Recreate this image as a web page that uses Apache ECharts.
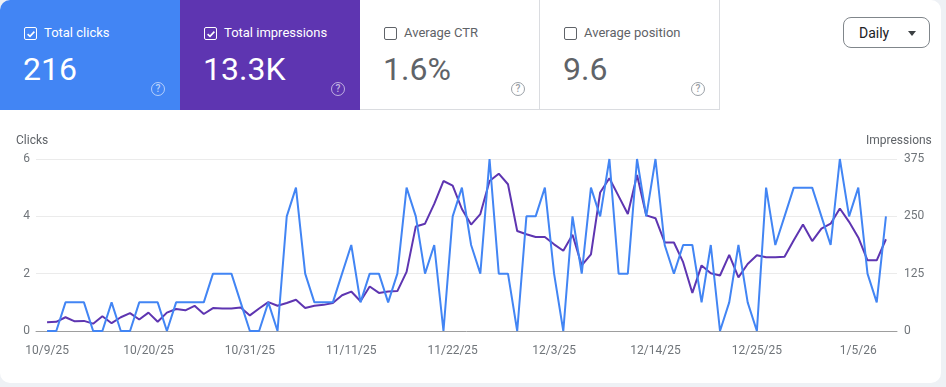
<!DOCTYPE html>
<html>
<head>
<meta charset="utf-8">
<script src="https://cdn.jsdelivr.net/npm/echarts@6/dist/echarts.min.js"></script>
<style>
  html, body { margin:0; padding:0; width:946px; height:387px; background:#eef1f5; overflow:hidden; font-family: Roboto, "Noto Sans", Arial, sans-serif; }
  #card { position:absolute; left:0; top:0; width:941px; height:383px; background:#fff; border-radius:10px; overflow:hidden; }
  #chart { position:absolute; left:0; top:0; width:946px; height:387px; }
  .tile { position:absolute; top:0; width:180px; height:110px; box-sizing:border-box; }
  .tile.white { border-right:1px solid #dadce0; border-bottom:1px solid #dadce0; background:#fff; }
  .cb { position:absolute; left:24px; top:27px; width:13px; height:13px; box-sizing:border-box; border-radius:2px; }
  .lbl { position:absolute; left:44px; top:25px; font-size:13px; line-height:16px; white-space:nowrap; }
  .val { position:absolute; left:23px; top:49px; font-size:32px; line-height:40px; white-space:nowrap; }
  .help { position:absolute; left:151px; top:82px; width:14px; height:14px; box-sizing:border-box; border-radius:50%; font-size:10px; line-height:12px; text-align:center; font-weight:500; }
  #daily { position:absolute; left:843px; top:17px; width:87px; height:31px; box-sizing:border-box; border:1px solid #80868b; border-radius:8px; background:#fff; }
  #daily span { position:absolute; left:15px; top:6px; font-size:14px; line-height:18px; color:#202124; }
  #daily i { position:absolute; left:64px; top:13px; width:0; height:0; border-left:4px solid transparent; border-right:4px solid transparent; border-top:5px solid #3c4043; }
</style>
</head>
<body>
<div id="card">
  <div id="chart"></div>
  <div id="tiles"></div>
  <div id="daily"><span>Daily</span><i></i></div>
</div>
<script>
// ---- data ----
const startDate = '2025-10-09';
const dayCount = 92;
const tickLabels = ['10/9/25','10/20/25','10/31/25','11/11/25','11/22/25','12/3/25','12/14/25','12/25/25','1/5/26'];
const clicks = [
  0,0,1,1,1,0,0,1,0,0,
  1,1,1,0,1,1,1,1,2,2,
  2,1,0,0,1,0,4,5,2,1,
  1,1,2,3,1,2,2,1,2,5,
  4,2,3,0,4,5,3,2,6,2,
  2,0,4,4,5,2,0,4,2,5,
  4,6,2,2,6,4,6,3,2,3,
  3,1,3,0,1,3,1,0,5,3,
  4,5,5,5,4,3,6,4,5,2,
  1,4
];
const impressions = [
  19,20,30,21,22,16,32,17,30,39,
  25,40,20,40,48,45,55,37,50,49,
  49,51,34,49,63,55,61,68,50,55,
  57,61,78,86,65,97,83,86,87,129,
  228,234,277,327,317,266,232,255,327,343,
  320,218,211,205,205,189,175,210,143,167,
  302,333,294,255,340,252,246,193,193,150,
  83,143,126,121,166,117,146,165,161,161,
  162,198,232,196,223,234,267,238,204,154,
  154,200
];
const clickTicks = [0,2,4,6];
const impressionTicks = [0,125,250,375];
const tileLabels = ['Total clicks','Total impressions','Average CTR','Average position'];
const tileValues = ['216','13.3K','1.6%','9.6'];
const tileChecked = [true,true,false,false];

// ---- categories (dates) ----
const categories = [];
{
  const d0 = new Date(startDate + 'T00:00:00Z');
  for (let i = 0; i < dayCount; i++) {
    const d = new Date(d0.getTime() + i * 86400000);
    categories.push((d.getUTCMonth()+1) + '/' + d.getUTCDate() + '/' + String(d.getUTCFullYear()).slice(2));
  }
}
const tickIdx = tickLabels.map(t => categories.indexOf(t));

// ---- tiles ----
const tileBg = ['#4285f4','#5e35b1',null,null];
const tilesEl = document.getElementById('tiles');
tileLabels.forEach((lab, k) => {
  const t = document.createElement('div');
  t.className = 'tile' + (tileBg[k] ? '' : ' white');
  t.style.left = (k*180) + 'px';
  if (tileBg[k]) t.style.background = tileBg[k];
  const fg = tileBg[k] ? '#fff' : '#5f6368';
  const cb = document.createElement('div');
  cb.className = 'cb';
  if (tileChecked[k]) {
    cb.style.border = '1.5px solid #fff';
    cb.innerHTML = '<svg width="10" height="10" viewBox="0 0 10 10" style="position:absolute;left:0.5px;top:0.5px"><polyline points="1.6,5.2 4,7.4 8.4,2.6" fill="none" stroke="#fff" stroke-width="1.6"/></svg>';
  } else {
    cb.style.border = '1.5px solid #5f6368';
  }
  t.appendChild(cb);
  const l = document.createElement('div'); l.className='lbl'; l.textContent = lab; l.style.color = fg;
  t.appendChild(l);
  const v = document.createElement('div'); v.className='val'; v.textContent = tileValues[k];
  v.style.color = tileBg[k] ? '#fff' : '#5f6368';
  t.appendChild(v);
  const h = document.createElement('div'); h.className='help'; h.textContent='?';
  if (tileBg[k]) { h.style.border = '1.5px solid rgba(255,255,255,0.6)'; h.style.color='rgba(255,255,255,0.65)'; }
  else { h.style.border = '1.2px solid #9aa0a6'; h.style.color = '#9aa0a6'; }
  t.appendChild(h);
  tilesEl.appendChild(t);
});

// ---- chart ----
const chart = echarts.init(document.getElementById('chart'), null, {renderer:'canvas'});
const labelColor = '#70757a';
chart.setOption({
  animation: false,
  grid: { left: 36, right: 49, top: 159, bottom: 56 },
  graphic: [
    { type:'text', left:16, top:135, style:{ text:'Clicks', fill:'#5f6368', font:'12px Roboto' } },
    { type:'text', left:866, top:135, style:{ text:'Impressions', fill:'#5f6368', font:'12px Roboto' } }
  ],
  xAxis: {
    type: 'value',
    min: -1.2, max: dayCount - 1 + 1.2,
    axisLine: { show:true, lineStyle:{ color:'#9e9e9e', width:1 } },
    axisTick: { show:false },
    splitLine: { show:false },
    axisLabel: {
      customValues: tickIdx,
      formatter: v => categories[Math.round(v)] || '',
      color: labelColor, fontSize: 12, fontFamily: 'Roboto', margin: 14
    }
  },
  yAxis: [
    {
      type:'value', min:0, max:clickTicks[clickTicks.length-1], interval:clickTicks[1]-clickTicks[0],
      axisLine:{show:false}, axisTick:{show:false},
      axisLabel:{ color:labelColor, fontSize:12, fontFamily:'Roboto', margin:6 },
      splitLine:{ lineStyle:{ color:'#ebebeb', width:1 } }
    },
    {
      type:'value', min:0, max:impressionTicks[impressionTicks.length-1], interval:impressionTicks[1]-impressionTicks[0],
      position:'right',
      axisLine:{show:false}, axisTick:{show:false},
      axisLabel:{ color:labelColor, fontSize:12, fontFamily:'Roboto', margin:7 },
      splitLine:{ show:false }
    }
  ],
  series: [
    {
      name:'Impressions', type:'line', yAxisIndex:1, showSymbol:false, symbol:'none',
      lineStyle:{ color:'#5e35b1', width:2 }, itemStyle:{color:'#5e35b1'},
      data: impressions.map((v,i) => [i, v])
    },
    {
      name:'Clicks', type:'line', yAxisIndex:0, showSymbol:false, symbol:'none',
      lineStyle:{ color:'#4285f4', width:2 }, itemStyle:{color:'#4285f4'},
      data: clicks.map((v,i) => [i, v])
    }
  ]
});
</script>
</body>
</html>
